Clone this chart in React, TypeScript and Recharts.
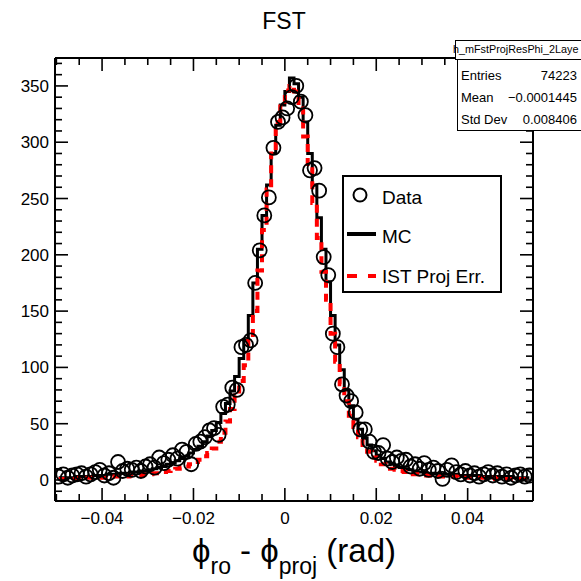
import React from 'react';
import { ComposedChart, Line, Scatter, XAxis, YAxis } from 'recharts';

// Histogram binning (104 bins of 0.001 rad starting at -0.05)
const BIN_LOW = -0.05;
const BIN_WIDTH = 0.001;

// Data (open circles)
const DATA_COUNTS = [
  3, 5, 2, 4, 5, 6, 3, 5, 7, 9,
  4, 6, 2, 16, 8, 10, 9, 11, 8, 12,
  14, 11, 20, 15, 18, 22, 19, 27, 25, 14,
  32, 34, 38, 44, 46, 40, 65, 67, 82, 80,
  118, 120, 124, 175, 204, 235, 251, 295, 318, 322,
  330, 340, 350, 336, 324, 275, 277, 257, 198, 182,
  130, 118, 85, 75, 70, 60, 45, 45, 34, 25,
  24, 31, 19, 16, 20, 17, 18, 12, 14, 10,
  15, 9, 11, 8, 1, 9, 13, 7, 5, 8,
  4, 6, 3, 5, 7, 4, 6, 3, 5, 2,
  4, 5, 3, 4,
];

// MC (black solid histogram)
const MC_COUNTS = [
  2, 2, 2, 2, 3, 3, 3, 3, 4, 4,
  4, 5, 5, 5, 6, 6, 7, 7, 8, 8,
  9, 10, 11, 12, 14, 15, 17, 19, 21, 24,
  27, 30, 34, 39, 44, 51, 59, 68, 79, 92,
  108, 124, 146, 175, 205, 235, 262, 290, 315, 333,
  345, 357, 352, 340, 318, 290, 262, 233, 205, 176,
  146, 120, 98, 80, 66, 54, 45, 37, 31, 26,
  22, 19, 16, 14, 12, 11, 10, 9, 8, 7,
  7, 6, 6, 6, 5, 5, 5, 5, 4, 4,
  4, 4, 4, 3, 3, 3, 3, 3, 3, 3,
  2, 2, 2, 2,
];

// IST Proj Err. (red dashed histogram)
const IST_COUNTS = [
  1, 1, 1, 1, 1, 2, 2, 2, 2, 2,
  2, 2, 3, 3, 3, 3, 4, 4, 4, 5,
  5, 6, 6, 7, 8, 9, 10, 11, 12, 14,
  16, 18, 21, 24, 28, 34, 42, 52, 63, 75,
  88, 102, 124, 150, 186, 222, 258, 290, 318, 336,
  346, 350, 345, 330, 305, 276, 246, 215, 185, 160,
  130, 105, 85, 70, 57, 47, 38, 31, 25, 20,
  17, 14, 12, 10, 9, 8, 7, 6, 5, 5,
  4, 4, 4, 3, 3, 3, 3, 3, 2, 2,
  2, 2, 2, 2, 2, 2, 1, 1, 1, 1,
  1, 1, 1, 1,
];

const X_DOMAIN = [-0.0503, 0.0543];
const Y_DOMAIN = [-18.65, 374.8];

const X_TICKS = [
  -0.05, -0.045, -0.04, -0.035, -0.03, -0.025, -0.02, -0.015, -0.01, -0.005, 0,
  0.005, 0.01, 0.015, 0.02, 0.025, 0.03, 0.035, 0.04, 0.045, 0.05,
];
const X_MAJOR = [-0.04, -0.02, 0, 0.02, 0.04];
const X_LABELS = ['\u22120.04', '\u22120.02', '0', '0.02', '0.04'];

const Y_TICKS = [
  -10, 0, 10, 20, 30, 40, 50, 60, 70, 80, 90, 100, 110, 120, 130, 140, 150, 160, 170, 180,
  190, 200, 210, 220, 230, 240, 250, 260, 270, 280, 290, 300, 310, 320, 330, 340, 350, 360, 370,
];
const Y_MAJOR = [0, 50, 100, 150, 200, 250, 300, 350];
const Y_LABELS = ['0', '50', '100', '150', '200', '250', '300', '350'];

const FONT = '"Liberation Sans", Arial, Helvetica, sans-serif';

const rows = DATA_COUNTS.map((d, i) => ({
  x: BIN_LOW + BIN_WIDTH * (i + 0.5),
  data: d,
  mc: MC_COUNTS[i],
  ist: IST_COUNTS[i],
}));

const findIdx = (arr: number[], v: number) => arr.findIndex((m) => Math.abs(m - v) < 1e-9);

const MAJOR_LEN = 13;
const MINOR_LEN = 7;

function BottomTick(props: any) {
  const { x, y, payload } = props;
  const i = findIdx(X_MAJOR, payload.value);
  const major = i >= 0;
  return (
    <g>
      <line x1={x} y1={y} x2={x} y2={y - (major ? MAJOR_LEN : MINOR_LEN)} stroke="#000" strokeWidth={1.6} />
      {major && (
        <text x={x} y={y + 23} textAnchor="middle" fontSize={17} fontFamily={FONT} fill="#000">
          {X_LABELS[i]}
        </text>
      )}
    </g>
  );
}

function TopTick(props: any) {
  const { x, y, payload } = props;
  const major = findIdx(X_MAJOR, payload.value) >= 0;
  return <line x1={x} y1={y} x2={x} y2={y + (major ? MAJOR_LEN : MINOR_LEN)} stroke="#000" strokeWidth={1.6} />;
}

function LeftTick(props: any) {
  const { x, y, payload } = props;
  const i = findIdx(Y_MAJOR, payload.value);
  const major = i >= 0;
  return (
    <g>
      <line x1={x} y1={y} x2={x + (major ? MAJOR_LEN : MINOR_LEN)} y2={y} stroke="#000" strokeWidth={1.6} />
      {major && (
        <text x={x - 6} y={y + 6} textAnchor="end" fontSize={17} fontFamily={FONT} fill="#000">
          {Y_LABELS[i]}
        </text>
      )}
    </g>
  );
}

function RightTick(props: any) {
  const { x, y, payload } = props;
  const major = findIdx(Y_MAJOR, payload.value) >= 0;
  return <line x1={x} y1={y} x2={x - (major ? MAJOR_LEN : MINOR_LEN)} y2={y} stroke="#000" strokeWidth={1.6} />;
}

function DataCircle(props: any) {
  const { cx, cy } = props;
  if (cx == null || cy == null) return null;
  return <circle cx={cx} cy={cy} r={7} fill="none" stroke="#000" strokeWidth={1.8} />;
}

const axisLine = { stroke: '#000', strokeWidth: 2 };

export default function App() {
  return (
    <div
      style={{
        position: 'absolute',
        left: 0,
        top: 0,
        width: 581,
        height: 581,
        overflow: 'hidden',
        background: '#fff',
        fontFamily: FONT,
      }}
    >
      <ComposedChart width={581} height={581} data={rows} margin={{ top: 0, right: 0, bottom: 0, left: 0 }}>
        <XAxis
          xAxisId="b"
          dataKey="x"
          type="number"
          domain={X_DOMAIN}
          ticks={X_TICKS}
          interval={0}
          height={80}
          tickSize={0}
          tickMargin={0}
          tick={BottomTick}
          axisLine={axisLine}
          allowDataOverflow
        />
        <XAxis
          xAxisId="t"
          orientation="top"
          dataKey="x"
          type="number"
          domain={X_DOMAIN}
          ticks={X_TICKS}
          interval={0}
          height={58}
          tickSize={0}
          tickMargin={0}
          tick={TopTick}
          axisLine={axisLine}
          allowDataOverflow
        />
        <YAxis
          yAxisId="l"
          type="number"
          domain={Y_DOMAIN}
          ticks={Y_TICKS}
          interval={0}
          width={55}
          tickSize={0}
          tickMargin={0}
          tick={LeftTick}
          axisLine={axisLine}
          allowDataOverflow
        />
        <YAxis
          yAxisId="r"
          orientation="right"
          type="number"
          domain={Y_DOMAIN}
          ticks={Y_TICKS}
          interval={0}
          width={48}
          tickSize={0}
          tickMargin={0}
          tick={RightTick}
          axisLine={axisLine}
          allowDataOverflow
        />
        <Line
          xAxisId="b"
          yAxisId="l"
          dataKey="mc"
          type="step"
          stroke="#000"
          strokeWidth={3}
          dot={false}
          isAnimationActive={false}
        />
        <Line
          xAxisId="b"
          yAxisId="l"
          dataKey="ist"
          type="step"
          stroke="#ff0000"
          strokeWidth={4}
          strokeDasharray="8 6"
          dot={false}
          isAnimationActive={false}
        />
        <Scatter
          xAxisId="b"
          yAxisId="l"
          dataKey="data"
          shape={DataCircle}
          isAnimationActive={false}
        />
      </ComposedChart>

      {/* Titles */}
      <svg width={581} height={581} style={{ position: 'absolute', left: 0, top: 0, pointerEvents: 'none' }}>
        <text x={284} y={29} textAnchor="middle" fontSize={23} fontFamily={FONT} fill="#000">
          FST
        </text>
        <text x={294} y={562} textAnchor="middle" fontSize={33} fontFamily={FONT} fill="#000">
          {'\u03D5'}
          <tspan fontSize={23} dy={12}>ro</tspan>
          <tspan dy={-12}>{' - \u03D5'}</tspan>
          <tspan fontSize={23} dy={12}>proj</tspan>
          <tspan dy={-12}>{' (rad)'}</tspan>
        </text>
      </svg>

      {/* Stats box */}
      <div
        style={{
          position: 'absolute',
          left: 455,
          top: 40,
          width: 160,
          height: 20,
          border: '1.5px solid #000',
          background: '#fff',
          boxSizing: 'border-box',
        }}
      />
      <div
        style={{
          position: 'absolute',
          left: 453,
          top: 42,
          fontSize: 10.8,
          lineHeight: '15px',
          whiteSpace: 'nowrap',
          color: '#000',
        }}
      >
        h_mFstProjResPhi_2Laye
      </div>
      <div
        style={{
          position: 'absolute',
          left: 457,
          top: 59,
          width: 160,
          height: 72,
          border: '1.5px solid #000',
          background: '#fff',
          boxSizing: 'border-box',
        }}
      />
      {[
        ['Entries', '74223', 68],
        ['Mean', '\u22120.0001445', 90],
        ['Std Dev', '0.008406', 112],
      ].map(([k, v, t]) => (
        <React.Fragment key={k as string}>
          <div style={{ position: 'absolute', left: 461, top: t as number, fontSize: 13, lineHeight: '16px', whiteSpace: 'nowrap' }}>
            {k}
          </div>
          <div
            style={{
              position: 'absolute',
              left: 480,
              width: 97,
              top: t as number,
              fontSize: 13,
              lineHeight: '16px',
              textAlign: 'right',
              whiteSpace: 'nowrap',
            }}
          >
            {v}
          </div>
        </React.Fragment>
      ))}

      {/* Legend */}
      <div
        style={{
          position: 'absolute',
          left: 342,
          top: 175,
          width: 160,
          height: 118,
          border: '2px solid #000',
          background: '#fff',
          boxSizing: 'border-box',
        }}
      />
      <svg width={581} height={581} style={{ position: 'absolute', left: 0, top: 0, pointerEvents: 'none' }}>
        <circle cx={360} cy={195} r={6.5} fill="none" stroke="#000" strokeWidth={2} />
        <text x={382} y={204} fontSize={19} fontFamily={FONT} fill="#000">Data</text>
        <line x1={347} y1={234} x2={376} y2={234} stroke="#000" strokeWidth={4} />
        <text x={382} y={243} fontSize={19} fontFamily={FONT} fill="#000">MC</text>
        <line x1={347} y1={276} x2={376} y2={276} stroke="#ff0000" strokeWidth={4} strokeDasharray="10 11" />
        <text x={382} y={283} fontSize={19} fontFamily={FONT} fill="#000">IST Proj Err.</text>
      </svg>
    </div>
  );
}
